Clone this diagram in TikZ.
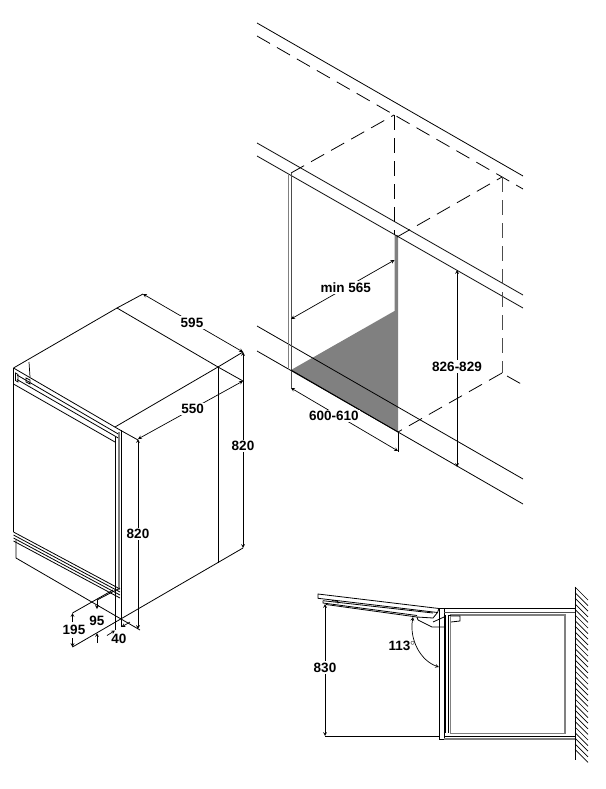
\documentclass[tikz,border=0pt]{standalone}
\usepackage{fontspec}
\setmainfont{Liberation Sans}
\usepackage{xcolor}
\definecolor{panelgray}{HTML}{808080}
\tikzset{
  part/.style={line width=0.8pt,black},
  thin part/.style={line width=0.7pt,black},
  gray part/.style={line width=1.3pt,panelgray},
  hidden/.style={line width=0.8pt,black,dash pattern=on 15pt off 8pt},
  dim/.style={line width=0.7pt,black,-stealth},
  both dim/.style={line width=0.7pt,black,stealth-stealth},
  dim text/.style={fill=white,inner sep=1.5pt,font=\bfseries\fontsize{13.5}{14}\selectfont},
}
\begin{document}
\begin{tikzpicture}[x=1pt,y=-1pt]
  \useasboundingbox (0,0) rectangle (605,789);
  % wall with the niche
  \fill[panelgray] (291,370)--(394.5,311)--(394.5,235)--(398,235)--(398,432)--cycle;
  \draw[part] (257,23)--(523,176);
  \draw[hidden] (257,36)--(523,189);
  \draw[part] (257,143)--(523,295);
  \draw[part] (257,156)--(523,308);
  \draw[part] (257,326)--(523,479);
  \draw[part] (257,351)--(398,432)--(523,504);
  \draw[hidden] (291,173)--(394,115);
  \draw[hidden] (394,115)--(394,235);
  \draw[hidden] (397,237)--(502,177);
  \draw[hidden,black!70] (502,177)--(502,373);
  \draw[hidden] (502,373)--(398,432);
  \draw[hidden] (507,376)--(523,385);
  \draw[line width=0.8pt,panelgray] (288.5,173)--(288.5,370);
  \draw[line width=0.8pt,black!70] (291,173)--(291,388);
  \draw[thin part] (398,432)--(398,452);
  \draw[part] (291,370)--(398,432);
  \draw[both dim] (291,388)--(398,451) node[pos=0.4,yshift=-3pt,dim text] (widthlabel) {600-610};
  \draw[both dim] (291,319)--(394.5,260) node[pos=0.53,dim text] (depthlabel) {min 565};
  \draw[both dim] (457,270)--(457,467) node[pos=0.49,dim text] (heightlabel) {826-829};
  % cabinet seen from above
  \draw[part] (13.5,368)--(117,308)--(218,367)--(115,427);
  \draw[part] (13.5,368)--(120,430);
  \draw[part] (218,367)--(218,563);
  \draw[part] (117,308)--(143,294);
  \draw[part] (218,367)--(243,352);
  \draw[part] (218,367)--(243,381);
  \draw[part] (120,430)--(138,440);
  \draw[part] (13.5,368)--(13.5,532);
  \draw[part] (16,540)--(16,558)--(140,630);
  % door strips
  \foreach \dy in {0,3,6,9}{
    \draw[part] (13.5,532+\dy)--(120,588+\dy+1);
  }
  \draw[part] (17,375)--(120,435);
  \draw[part] (17,379.5)--(120,439);
  \draw[part] (13.5,384)--(115,442);
  \draw[thin part] (29,362)--(30,377);
  \draw[thin part] (26,378)--(30,380)--(30,384)--(26,382)--cycle;
  \draw[thin part] (15.5,373)--(18,374.5)--(18,382)--(15.5,380.5)--cycle;
  \draw[part] (115,437)--(115,630);
  \draw[gray part] (119,432)--(119,590);
  \draw[part] (121,430)--(121,627);
  % cabinet dimensions
  \draw[both dim] (143,294)--(243,352) node[pos=0.49,dim text] (widthtop) {595};
  \draw[both dim] (138,439)--(243,381) node[pos=0.52,dim text] (depthtop) {550};
  \draw[both dim] (243,352)--(243,548) node[pos=0.48,dim text] (heightright) {820};
  \draw[both dim] (138,439)--(138,629) node[pos=0.5,dim text] (heightleft) {820};
  \draw[part] (72.5,647)--(243,548);
  \draw[part] (72.5,613)--(113,590);
  \draw[part] (97,600)--(120,588);
  \draw[dim] (72.5,622)--(72.5,613);
  \draw[dim] (72.5,638)--(72.5,647);
  \draw[dim] (97,600)--(97,609);
  \draw[dim] (97,643)--(97,633);
  \node[dim text,fill=none] (plinthhigh) at (74,630) {195};
  \node[dim text,fill=none] (plinthlow) at (97,621) {95};
  \node[dim text,fill=none] (plinthback) at (119,639) {40};
  \draw[dim] (107,635.5)--(115,630.5);
  \draw[dim] (130,622)--(121.5,627);
  % plan view of the open door
  \draw[part] (318,594)--(439,608.5)--(437.5,612.5)--(318,598.3)--cycle;
  \draw[part] (323,600.7)--(323,603)--(417,615.5);
  \draw[part] (323,600.7)--(433,613);
  \draw[part] (332,600.5)--(338,601.5)--(338,603.5);
  \draw[part] (326,604.5)--(417,617)--(433,618)--(437.5,612.5);
  \draw[part] (418,620)--(432,627)--(444,627);
  \draw[part] (433,622)--(444,617);
  \draw[part] (417,617)--(418,620);
  \draw[part] (439.3,608)--(439.3,739.5)--(444,739.5)--(444,608)--cycle;
  \draw[part] (444,608.3)--(575,608.3);
  \draw[line width=1pt,black!70] (444,612.3)--(575,612.3);
  \draw[part] (444,736)--(575,736);
  \draw[gray part] (444,739)--(575,739);
  \draw[part] (325,736)--(439.3,736);
  \draw[gray part] (450.7,615) rectangle (565,733.3);
  \draw[part] (445.7,615)--(445.7,733.3);
  \draw[part] (448.3,615)--(448.3,733.3);
  \draw[part] (448.3,615)--(450.7,615);
  \draw[part] (451,616)--(460,616)--(460,621)--(451,622);
  \draw[part] (444,722)--(446,722);
  \draw[part] (444,727)--(446,727);
  \draw[part] (575,587)--(575,760);
  \foreach \yy in {587,592.6,...,750}{
    \draw[thin part] (575,\yy)--(588,\yy+13);
  }
  \draw[both dim] (325,604)--(325,736) node[pos=0.48,dim text] (openlabel) {830};
  \draw[both dim] (413,617) .. controls (409,640) and (421,661) .. (439,667);
  \node[dim text,fill=none] (anglelabel) at (402,646) {113$^{\circ}$};
\end{tikzpicture}
\end{document}
